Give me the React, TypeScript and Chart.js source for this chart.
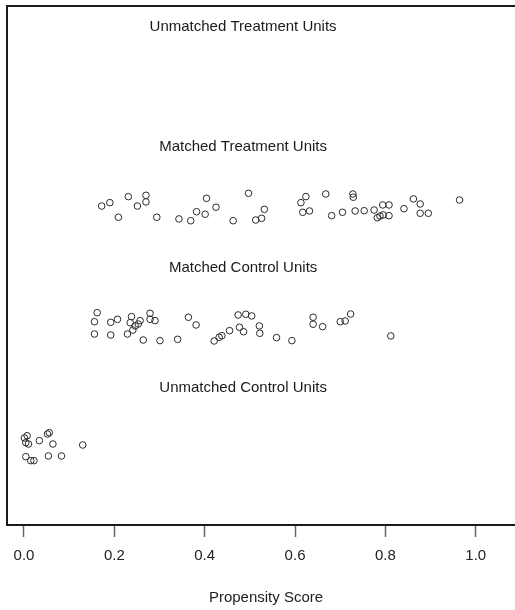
import React, { useEffect, useRef } from "react";
import { Chart, registerables } from "chart.js";

Chart.register(...registerables);

// Propensity scores (x) and jittered group positions (y) for each group.
const treatedMatchedX = [0.172, 0.19, 0.209, 0.231, 0.251, 0.27, 0.27, 0.294, 0.343, 0.369, 0.382, 0.404, 0.401, 0.425, 0.463, 0.497, 0.513, 0.526, 0.532, 0.613, 0.624, 0.617, 0.632, 0.668, 0.681, 0.705, 0.728, 0.729, 0.733, 0.753, 0.775, 0.782, 0.788, 0.794, 0.795, 0.808, 0.808, 0.841, 0.862, 0.877, 0.877, 0.895, 0.964];
const treatedMatchedY = [3.012, 3.04, 2.919, 3.09, 3.012, 3.101, 3.046, 2.919, 2.905, 2.89, 2.965, 3.076, 2.944, 3.002, 2.89, 3.118, 2.896, 2.91, 2.985, 3.04, 3.09, 2.96, 2.971, 3.112, 2.932, 2.96, 3.112, 3.085, 2.971, 2.973, 2.979, 2.915, 2.929, 3.021, 2.938, 3.021, 2.932, 2.99, 3.071, 3.029, 2.952, 2.952, 3.062];

const controlMatchedX = [0.162, 0.156, 0.156, 0.192, 0.192, 0.207, 0.229, 0.235, 0.238, 0.241, 0.246, 0.253, 0.257, 0.264, 0.279, 0.279, 0.29, 0.301, 0.34, 0.364, 0.381, 0.421, 0.432, 0.438, 0.455, 0.477, 0.486, 0.474, 0.491, 0.504, 0.521, 0.522, 0.559, 0.593, 0.64, 0.64, 0.661, 0.7, 0.711, 0.723, 0.812];
const controlMatchedY = [2.127, 2.052, 1.95, 2.047, 1.942, 2.072, 1.95, 2.044, 2.094, 1.983, 2.017, 2.033, 2.061, 1.9, 2.122, 2.072, 2.061, 1.895, 1.906, 2.089, 2.025, 1.892, 1.923, 1.936, 1.978, 2.006, 1.969, 2.108, 2.114, 2.1, 2.017, 1.956, 1.92, 1.895, 2.089, 2.031, 2.011, 2.052, 2.058, 2.116, 1.934];

const controlUnmatchedX = [0.007, 0.004, 0.01, 0.034, 0.052, 0.056, 0.064, 0.13, 0.004, 0.015, 0.022, 0.054, 0.083, 0.001];
const controlUnmatchedY = [1.106, 1.048, 1.037, 1.065, 1.12, 1.131, 1.037, 1.029, 0.932, 0.899, 0.899, 0.938, 0.938, 1.087];

const groupLabels = ["Unmatched Treatment Units", "Matched Treatment Units", "Matched Control Units", "Unmatched Control Units"];
const groupLabelY = [4.5, 3.5, 2.5, 1.5];
const groupLabelX = 0.485;

const xTicks = [0, 0.2, 0.4, 0.6, 0.8, 1.0];

const pts = (xs: number[], ys: number[]) => xs.map((x, i) => ({ x, y: ys[i] }));

const FONT = "'Liberation Sans', Arial, sans-serif";

// Frame around the plot region plus the group captions.
const framePlugin = {
  id: "frame",
  afterDraw(chart: any) {
    const { ctx, chartArea, scales } = chart;
    ctx.save();
    ctx.strokeStyle = "#1a1a1a";
    ctx.lineWidth = 2;
    ctx.strokeRect(chartArea.left, chartArea.top, chartArea.right - chartArea.left, chartArea.bottom - chartArea.top);
    ctx.fillStyle = "#1a1a1a";
    ctx.font = `15px ${FONT}`;
    ctx.textAlign = "center";
    ctx.textBaseline = "middle";
    groupLabels.forEach((label, i) => {
      ctx.fillText(label, scales.x.getPixelForValue(groupLabelX), scales.y.getPixelForValue(groupLabelY[i]));
    });
    ctx.restore();
  },
};

export default function App() {
  const ref = useRef<HTMLCanvasElement>(null);

  useEffect(() => {
    if (!ref.current) return;
    const pointStyle = {
      showLine: false,
      pointRadius: 3.3,
      pointBorderWidth: 1,
      pointBorderColor: "#2a2a2a",
      pointBackgroundColor: "rgba(0,0,0,0)",
      backgroundColor: "rgba(0,0,0,0)",
      borderColor: "#2a2a2a",
    };
    const chart = new Chart(ref.current, {
      type: "scatter",
      data: {
        datasets: [
          { label: "Matched Treatment Units", data: pts(treatedMatchedX, treatedMatchedY), ...pointStyle },
          { label: "Matched Control Units", data: pts(controlMatchedX, controlMatchedY), ...pointStyle },
          { label: "Unmatched Control Units", data: pts(controlUnmatchedX, controlUnmatchedY), ...pointStyle },
        ],
      },
      options: {
        responsive: false,
        animation: false,
        devicePixelRatio: 1,
        layout: { padding: { left: 7, top: 6, right: 7, bottom: 3.4 } },
        plugins: { legend: { display: false }, tooltip: { enabled: false } },
        scales: {
          x: {
            type: "linear",
            min: -0.0376,
            max: 1.109,
            afterBuildTicks: (scale: any) => {
              scale.ticks = xTicks.map((v) => ({ value: v }));
            },
            border: { display: false },
            grid: {
              drawOnChartArea: false,
              drawTicks: true,
              tickLength: 12,
              tickColor: "#666",
              tickWidth: 1.5,
            },
            ticks: {
              padding: 10,
              color: "#222",
              font: { family: FONT, size: 15 },
              maxRotation: 0,
              callback: (v: any) => Number(v).toFixed(1),
            },
            title: {
              display: true,
              text: "Propensity Score",
              color: "#222",
              font: { family: FONT, size: 15 },
              padding: { top: 13.6, bottom: 0 },
            },
          },
          y: {
            type: "linear",
            display: false,
            min: 0.365,
            max: 4.672,
          },
        },
      },
      plugins: [framePlugin],
    });
    return () => chart.destroy();
  }, []);

  return (
    <div style={{ position: "fixed", left: 0, top: 0, width: 515, height: 610, overflow: "hidden", background: "#fff" }}>
      <canvas ref={ref} width={532} height={610} style={{ display: "block", width: 532, height: 610 }} />
    </div>
  );
}
